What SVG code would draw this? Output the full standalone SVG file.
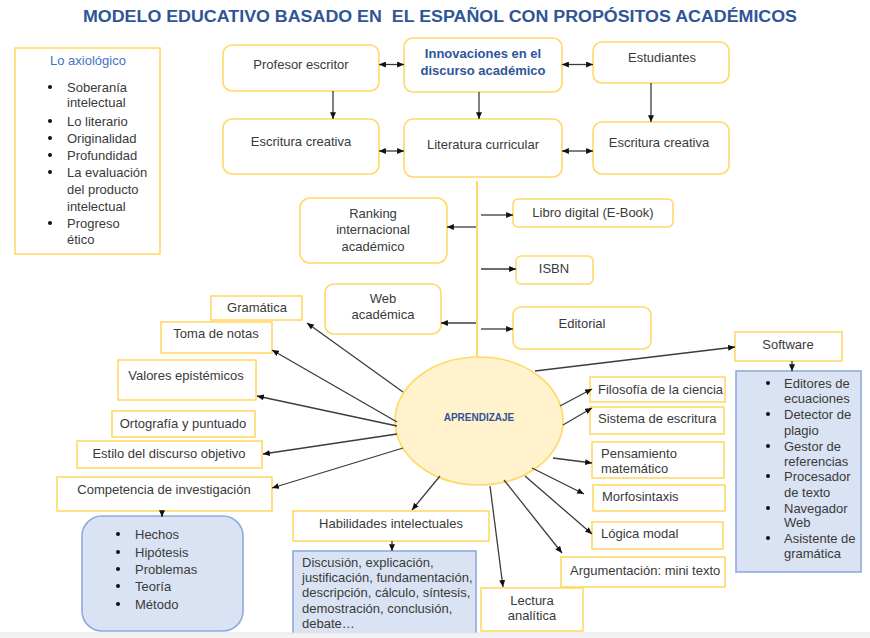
<svg xmlns="http://www.w3.org/2000/svg" width="870" height="638" viewBox="0 0 870 638">
<defs>
<style>
text{font-family:"Liberation Sans",Arial,sans-serif;font-size:13px;fill:#3a3a3a}
.c{text-anchor:middle}
.box{fill:#fff;stroke:#ffd966;stroke-width:1.6}
.blue{fill:#dae3f3;stroke:#8faadc;stroke-width:1.6}
.ttl{fill:#2f5597;font-weight:bold}
.con line{stroke:#3c3c3c;stroke-width:1.3;marker-end:url(#ah)}
.con line.d{marker-start:url(#ah)}
.dot{fill:#111}
</style>
<marker id="ah" viewBox="0 0 8 7" refX="8" refY="3.5" markerWidth="7" markerHeight="6" markerUnits="userSpaceOnUse" orient="auto-start-reverse"><path d="M0,0L8,3.5L0,7z" fill="#111"/></marker>
</defs>
<rect width="870" height="638" fill="#fff"/>
<text x="440" y="22" class="c ttl" style="font-size:16px" textLength="714" lengthAdjust="spacingAndGlyphs">MODELO EDUCATIVO BASADO EN&#160; EL ESPAÑOL CON PROPÓSITOS ACADÉMICOS</text>

<g id="axiologico">
<rect class="box" x="15" y="48" width="145" height="206"/>
<text x="88" y="64.5" class="c" style="fill:#4472c4">Lo axiológico</text>
<circle class="dot" cx="50" cy="87" r="2"/><circle class="dot" cx="50" cy="121" r="2"/><circle class="dot" cx="50" cy="138" r="2"/><circle class="dot" cx="50" cy="155" r="2"/><circle class="dot" cx="50" cy="172" r="2"/><circle class="dot" cx="50" cy="223" r="2"/>
<text x="67" y="91.5">Soberanía</text><text x="67" y="106.5">intelectual</text><text x="67" y="125.5">Lo literario</text><text x="67" y="142.5">Originalidad</text><text x="67" y="159.5">Profundidad</text><text x="67" y="176.5">La evaluación</text><text x="67" y="193.5">del producto</text><text x="67" y="210.5">intelectual</text><text x="67" y="227.5">Progreso</text><text x="67" y="243.5">ético</text>
</g>

<g id="profesor"><rect class="box" x="223" y="45" width="156" height="46" rx="9"/><text x="301" y="68.5" class="c">Profesor escritor</text></g>
<g id="innovaciones"><rect class="box" x="404" y="38" width="158" height="54" rx="9"/><text x="483" y="57.5" class="c ttl">Innovaciones en el</text><text x="483" y="74.5" class="c ttl">discurso académico</text></g>
<g id="estudiantes"><rect class="box" x="593" y="42" width="136" height="41" rx="9"/><text x="662" y="61.5" class="c">Estudiantes</text></g>
<g id="escritura1"><rect class="box" x="223" y="119" width="156" height="55" rx="9"/><text x="301" y="145.5" class="c">Escritura creativa</text></g>
<g id="literatura"><rect class="box" x="404" y="119" width="158" height="58" rx="9"/><text x="483" y="148.5" class="c">Literatura curricular</text></g>
<g id="escritura2"><rect class="box" x="593" y="122" width="136" height="52" rx="9"/><text x="659" y="147" class="c">Escritura creativa</text></g>

<g id="ranking"><rect class="box" x="300" y="198" width="147" height="65" rx="10"/><text x="373" y="217.5" class="c">Ranking</text><text x="373" y="233.5" class="c">internacional</text><text x="373" y="250.5" class="c">académico</text></g>
<g id="libro"><rect class="box" x="513" y="199" width="160" height="28" rx="5"/><text x="593" y="216.5" class="c">Libro digital (E-Book)</text></g>
<g id="isbn"><rect class="box" x="516" y="256" width="77" height="28" rx="5"/><text x="554" y="272.5" class="c">ISBN</text></g>
<g id="web"><rect class="box" x="325" y="284" width="116" height="50" rx="9"/><text x="383" y="302.5" class="c">Web</text><text x="383" y="318.5" class="c">académica</text></g>
<g id="editorial"><rect class="box" x="513" y="307" width="138" height="42" rx="8"/><text x="582" y="327.5" class="c">Editorial</text></g>

<g id="gramatica"><rect class="box" x="211" y="296" width="91" height="24"/><text x="257" y="311.5" class="c">Gramática</text></g>
<g id="toma"><rect class="box" x="161" y="322" width="111" height="31"/><text x="216" y="337.5" class="c">Toma de notas</text></g>
<g id="valores"><rect class="box" x="118" y="360" width="138" height="40"/><text x="186" y="379.5" class="c">Valores epistémicos</text></g>
<g id="ortografia"><rect class="box" x="112" y="411" width="143" height="26"/><text x="183" y="427.5" class="c">Ortografía y puntuado</text></g>
<g id="estilo"><rect class="box" x="77" y="441" width="185" height="27"/><text x="169" y="457.5" class="c">Estilo del discurso objetivo</text></g>
<g id="competencia"><rect class="box" x="57" y="477" width="215" height="34"/><text x="164" y="493.5" class="c">Competencia de investigación</text></g>
<g id="investigacion-lista"><rect class="blue" x="82" y="516" width="161" height="115" rx="20"/>
<circle class="dot" cx="118" cy="534" r="2"/><circle class="dot" cx="118" cy="552" r="2"/><circle class="dot" cx="118" cy="569" r="2"/><circle class="dot" cx="118" cy="586" r="2"/><circle class="dot" cx="118" cy="604" r="2"/>
<text x="135" y="538.5">Hechos</text><text x="135" y="556.5">Hipótesis</text><text x="135" y="573.5">Problemas</text><text x="135" y="590.5">Teoría</text><text x="135" y="608.5">Método</text></g>

<g id="aprendizaje"><ellipse cx="479" cy="421" rx="84" ry="64" fill="#fff2cc" stroke="#ffd966" stroke-width="1.6"/><text x="479" y="421" class="c ttl" style="font-size:10px">APRENDIZAJE</text></g>

<g id="software"><rect class="box" x="735" y="332" width="107" height="29"/><text x="788" y="348.5" class="c">Software</text></g>
<g id="software-lista"><rect class="blue" x="736" y="371" width="125" height="201"/>
<circle class="dot" cx="768" cy="383" r="2"/><circle class="dot" cx="768" cy="414" r="2"/><circle class="dot" cx="768" cy="446" r="2"/><circle class="dot" cx="768" cy="476" r="2"/><circle class="dot" cx="768" cy="508" r="2"/><circle class="dot" cx="768" cy="538" r="2"/>
<text x="784" y="387.5">Editores de</text><text x="784" y="402.5">ecuaciones</text><text x="784" y="418.5">Detector de</text><text x="784" y="434.5">plagio</text><text x="784" y="450.5">Gestor de</text><text x="784" y="465.5">referencias</text><text x="784" y="480.5">Procesador</text><text x="784" y="496.5">de texto</text><text x="784" y="512.5">Navegador</text><text x="784" y="526.5">Web</text><text x="784" y="542.5">Asistente de</text><text x="784" y="557.5">gramática</text></g>

<g id="filosofia"><rect class="box" x="590" y="377" width="135" height="25"/><text x="598" y="393.5">Filosofía de la ciencia</text></g>
<g id="sistema"><rect class="box" x="590" y="407" width="134" height="27"/><text x="598" y="422.5">Sistema de escritura</text></g>
<g id="pensamiento"><rect class="box" x="592" y="442" width="132" height="36"/><text x="601" y="457.5">Pensamiento</text><text x="601" y="472.5">matemático</text></g>
<g id="morfosintaxis"><rect class="box" x="593" y="485" width="132" height="26"/><text x="602" y="500.5">Morfosintaxis</text></g>
<g id="logica"><rect class="box" x="592" y="522" width="131" height="27"/><text x="601" y="537.5">Lógica modal</text></g>
<g id="argumentacion"><rect class="box" x="561" y="557" width="164" height="30"/><text x="570" y="574.5">Argumentación: mini texto</text></g>
<g id="lectura"><rect class="box" x="481" y="588" width="102" height="43"/><text x="532" y="604.5" class="c">Lectura</text><text x="532" y="619.5" class="c">analítica</text></g>
<g id="habilidades"><rect class="box" x="293" y="511" width="196" height="30"/><text x="391" y="527.5" class="c">Habilidades intelectuales</text></g>
<g id="habilidades-lista"><rect class="blue" x="293" y="551" width="183" height="95"/>
<text x="302" y="566.5">Discusión, explicación,</text><text x="302" y="582">justificación, fundamentación,</text><text x="302" y="597">descripción, cálculo, síntesis,</text><text x="302" y="612.5">demostración, conclusión,</text><text x="302" y="628">debate…</text></g>

<g id="connectors" class="con">
<line class="d" x1="379" y1="64.5" x2="404" y2="64.5"/>
<line class="d" x1="562" y1="64.5" x2="593" y2="64.5"/>
<line class="d" x1="379" y1="151" x2="404" y2="151"/>
<line class="d" x1="562" y1="151" x2="593" y2="151"/>
<line x1="333" y1="91" x2="333" y2="119"/>
<line x1="479" y1="92" x2="479" y2="119"/>
<line x1="651" y1="83" x2="651" y2="122"/>
<path d="M477,181V357" stroke="#ffd966" stroke-width="2" fill="none"/>
<line x1="476" y1="227" x2="447" y2="227"/>
<line x1="481" y1="215" x2="513" y2="215"/>
<line x1="481" y1="269" x2="516" y2="269"/>
<line x1="476" y1="323" x2="441" y2="323"/>
<line x1="481" y1="329" x2="513" y2="329"/>
<line x1="403" y1="392" x2="307" y2="323"/>
<line x1="397" y1="422" x2="272" y2="350"/>
<line x1="397" y1="426" x2="257" y2="396"/>
<line x1="397" y1="434" x2="263" y2="454"/>
<line x1="403" y1="448" x2="272" y2="488"/>
<line x1="162" y1="511" x2="162" y2="517"/>
<line x1="535" y1="371" x2="735" y2="347"/>
<line x1="792" y1="361" x2="792" y2="371"/>
<line x1="560" y1="406" x2="592" y2="389"/>
<line x1="563" y1="425" x2="592" y2="408"/>
<line x1="553" y1="458" x2="592" y2="463"/>
<line x1="532" y1="468" x2="584" y2="494"/>
<line x1="525" y1="476" x2="592" y2="534"/>
<line x1="504" y1="480" x2="562" y2="553"/>
<line x1="490" y1="486" x2="503" y2="587"/>
<line x1="440" y1="476" x2="412" y2="510"/>
<line x1="392" y1="541" x2="392" y2="551"/>
</g>
<rect x="0" y="633" width="870" height="5" fill="#f2f2f2"/>
<line x1="0" y1="633" x2="870" y2="633" stroke="#e2e2e2" stroke-width="1"/>
</svg>
